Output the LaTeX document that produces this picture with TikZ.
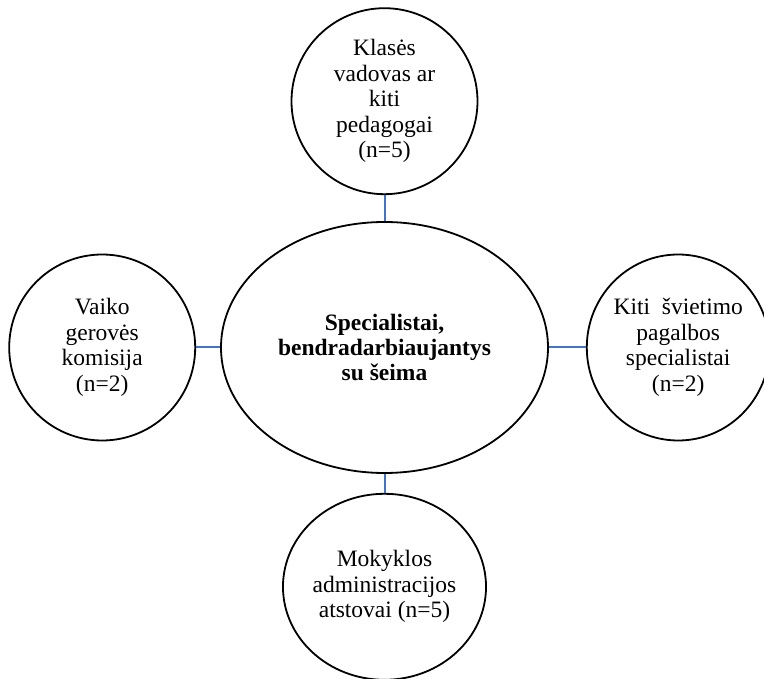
\documentclass[tikz,border=0pt]{standalone}
\usepackage{fontspec}
\setmainfont{Liberation Serif}
\usepackage{xcolor}
\usepackage{tikz}
\usetikzlibrary{positioning, shapes.geometric}
\definecolor{linkblue}{HTML}{4472C4}
\tikzset{
  hub/.style={ellipse, draw, line width=1.8pt, inner sep=0pt, align=center, minimum width=327pt, minimum height=251pt, font=\fontsize{23.5}{25}\selectfont\bfseries},
  bubble/.style={ellipse, draw, line width=1.8pt, inner sep=0pt, align=center, minimum width=186pt, minimum height=186pt, font=\fontsize{23.5}{25.5}\selectfont},
  link/.style={draw=linkblue, line width=2pt}
}

\begin{document}
\begin{tikzpicture}
    \useasboundingbox (0pt,0pt) rectangle (764pt,-679pt);
    \node[hub] (hub) at (384.5pt,-347.5pt) {Specialistai,\\bendradarbiaujantys\\su šeima};
    \node[bubble, above=26pt of hub] (top) {Klasės\\vadovas ar\\kiti\\pedagogai\\(n=5)};
    \node[bubble, left=24pt of hub] (lft) {Vaiko\\gerovės\\komisija\\(n=2)};
    \node[bubble, right=37pt of hub, minimum width=176pt] (rgt) {Kiti\ \ švietimo\\pagalbos\\specialistai\\(n=2)};
    \node[bubble, below=19pt of hub, minimum width=192pt] (bot) {Mokyklos\\administracijos\\atstovai (n=5)};
    \draw[link] (hub) -- (top);
    \draw[link] (hub) -- (lft);
    \draw[link] (hub) -- (rgt);
    \draw[link] (hub) -- (bot);
\end{tikzpicture}
\end{document}
